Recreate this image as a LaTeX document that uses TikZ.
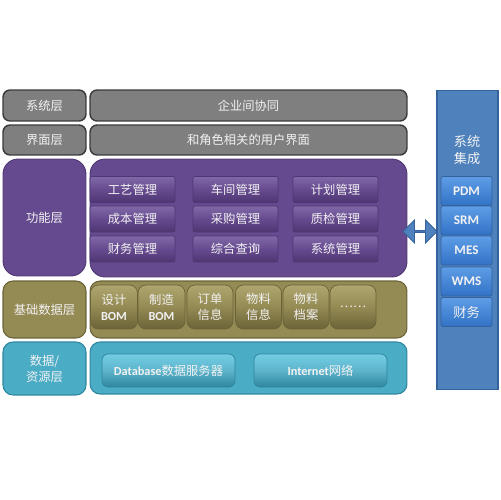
\documentclass[tikz,border=0pt]{standalone}
\usepackage{fontspec}
\setmainfont{Noto Sans CJK SC}
\newfontfamily\calib{Carlito}
\newcommand{\lat}[1]{{\calib\bfseries #1}}
\usepackage{xcolor}
\definecolor{graymid}{HTML}{7F7F7F}
\definecolor{grayedge}{HTML}{3A3A3A}
\definecolor{plum}{HTML}{664A8F}
\definecolor{plumdark}{HTML}{4E3672}
\definecolor{plumlight}{HTML}{8069A8}
\definecolor{olivemid}{HTML}{948A54}
\definecolor{olivedark}{HTML}{6B6338}
\definecolor{olivelight}{HTML}{AFA66F}
\definecolor{tealmid}{HTML}{4BACC6}
\definecolor{tealdark}{HTML}{2E869E}
\definecolor{teallight}{HTML}{72CDE3}
\definecolor{steel}{HTML}{4F81BD}
\definecolor{steeldark}{HTML}{34629C}
\definecolor{azure}{HTML}{3272C6}
\definecolor{azurelight}{HTML}{5E9DE6}
\definecolor{labeltext}{HTML}{F2F2F2}
\usepackage{tikz}
\usetikzlibrary{shapes.arrows}
\tikzset{
    dims/.style 2 args = {minimum width=#1*0.2mm, minimum height=#2*0.2mm, inner sep=0pt},
    boxtext/.style = {text=labeltext, font=\fontsize{7}{9}\selectfont, align=center},
    graylayer/.style = {boxtext, draw=grayedge, line width=0.8pt, fill=graymid,
                        rounded corners=1.4mm},
    purplelayer/.style = {boxtext, draw=plumdark, line width=0.5pt, fill=plum,
                          rounded corners=3mm},
    purplebtn/.style = {boxtext, draw=plumdark, line width=0.4pt, top color=plumlight,
                        bottom color=plumdark, middle color=plum, rounded corners=0.4mm},
    goldlayer/.style = {boxtext, draw=olivedark, line width=0.6pt, fill=olivemid,
                        rounded corners=2mm},
    goldbtn/.style = {boxtext, draw=olivedark, line width=0.4pt, top color=olivelight,
                      bottom color=olivedark, middle color=olivemid, rounded corners=1.6mm},
    teallayer/.style = {boxtext, draw=tealdark, line width=0.6pt, fill=tealmid,
                        rounded corners=2mm},
    tealbtn/.style = {boxtext, draw=tealdark, line width=0.4pt, top color=teallight,
                      bottom color=tealdark, middle color=tealmid!90!white, rounded corners=1.2mm},
    bluecol/.style = {boxtext, draw=steeldark, line width=0.6pt, fill=steel},
    bluebtn/.style = {boxtext, draw=steeldark, line width=0.4pt, top color=azurelight,
                      bottom color=azure, rounded corners=0.4mm,
                      font=\fontsize{7.5}{9}\selectfont},
    linkarrow/.style = {double arrow, draw=steeldark, fill=steel, line width=0.5pt,
                        inner sep=0pt, double arrow head extend=1mm},
}
\begin{document}
\begin{tikzpicture}[x=0.02cm, y=-0.02cm]
        \useasboundingbox (0,0) rectangle (500,500);
        % top layers
        \node[graylayer, dims={83}{31}] (sys) at (44.5,105.5) {系统层};
        \node[graylayer, dims={317}{31}] (sysmain) at (248.5,105.5) {企业间协同};
        \node[graylayer, dims={83}{30}] (ui) at (44.5,140) {界面层};
        \node[graylayer, dims={317}{30}] (uimain) at (248.5,140) {和角色相关的用户界面};
        % function layer
        \node[purplelayer, dims={83}{117}] (func) at (44.5,217.5) {功能层};
        \node[purplelayer, dims={317}{118}] (funcmain) at (248.5,218) {};
        \node[purplebtn, dims={85}{26}] (gongyi) at (132.5,189.5) {工艺管理};
        \node[purplebtn, dims={85}{26}] (chejian) at (235.5,189.5) {车间管理};
        \node[purplebtn, dims={85}{26}] (jihua) at (335.5,189.5) {计划管理};
        \node[purplebtn, dims={85}{26}] (chengben) at (132.5,219) {成本管理};
        \node[purplebtn, dims={85}{26}] (caigou) at (235.5,219) {采购管理};
        \node[purplebtn, dims={85}{26}] (zhijian) at (335.5,219) {质检管理};
        \node[purplebtn, dims={85}{26}] (caiwu) at (132.5,249) {财务管理};
        \node[purplebtn, dims={85}{26}] (chaxun) at (235.5,249) {综合查询};
        \node[purplebtn, dims={85}{26}] (xitong) at (335.5,249) {系统管理};
        % base data layer
        \node[goldlayer, dims={83}{57}] (base) at (44.5,309.5) {基础数据层};
        \node[goldlayer, dims={317}{57}] (basemain) at (248.5,309.5) {};
        \node[goldbtn, dims={47}{44}] (sheji) at (114,307) {设计\\\lat{BOM}};
        \node[goldbtn, dims={47}{44}] (zhizao) at (161.5,307) {制造\\\lat{BOM}};
        \node[goldbtn, dims={46}{44}] (dingdan) at (210,307) {订单\\信息};
        \node[goldbtn, dims={46}{44}] (wuliao) at (258.5,307) {物料\\信息};
        \node[goldbtn, dims={46}{44}] (dangan) at (306,307) {物料\\档案};
        \node[goldbtn, dims={46}{44}] (more) at (353,307) {……};
        % resource layer
        \node[teallayer, dims={83}{53}] (res) at (44.5,368.5) {数据/\\资源层};
        \node[teallayer, dims={317}{52}] (resmain) at (248.5,368) {};
        \node[tealbtn, dims={133}{33}] (db) at (168.5,370.5) {\lat{Database}数据服务器};
        \node[tealbtn, dims={133}{33}] (net) at (320.5,370.5) {\lat{Internet}网络};
        % system integration
        \node[bluecol, dims={61}{300}] (integ) at (467.5,240) {};
        \node[boxtext, font=\fontsize{7.5}{10}\selectfont] (integtitle) at (467,150) {系统\\集成};
        \node[bluebtn, dims={51}{29}] (pdm) at (466.5,191) {\lat{PDM}};
        \node[bluebtn, dims={51}{29}] (srm) at (466.5,220.5) {\lat{SRM}};
        \node[bluebtn, dims={51}{29}] (mes) at (466.5,250.5) {\lat{MES}};
        \node[bluebtn, dims={51}{29}] (wms) at (466.5,281.5) {\lat{WMS}};
        \node[bluebtn, dims={51}{29}] (fin) at (466.5,312) {财务};
        \node[linkarrow, minimum height=6.8mm, minimum width=4.6mm] (link) at (420,231.5) {};
      \end{tikzpicture}
\end{document}
